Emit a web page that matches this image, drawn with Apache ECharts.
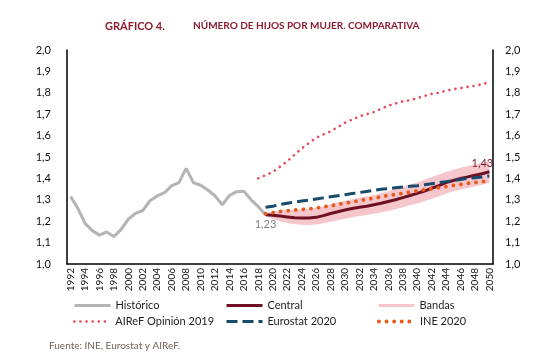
<!DOCTYPE html>
<html><head><meta charset="utf-8">
<script src="https://cdn.jsdelivr.net/npm/echarts@6/dist/echarts.min.js"></script>
<style>html,body{margin:0;padding:0;background:#fff}#c{width:548px;height:357px}</style>
</head><body><div id="c"></div>
<script>
var years = [];
for (var y = 1992; y <= 2050; y++) years.push(String(y));

var historico = [1.315,1.26,1.19,1.156,1.135,1.15,1.128,1.162,1.21,1.237,1.25,1.296,1.318,1.333,1.366,1.38,1.447,1.38,1.368,1.346,1.319,1.276,1.32,1.338,1.34,1.30,1.268,1.23];
// projections 2019..2050
var central = [1.23,1.228,1.224,1.22,1.216,1.215,1.215,1.218,1.226,1.236,1.244,1.252,1.259,1.265,1.27,1.277,1.284,1.292,1.30,1.31,1.32,1.33,1.341,1.354,1.366,1.38,1.39,1.40,1.407,1.415,1.422,1.431];
var bandLow = [1.225,1.21,1.2,1.192,1.186,1.183,1.182,1.184,1.19,1.198,1.205,1.212,1.218,1.224,1.229,1.235,1.241,1.248,1.256,1.265,1.274,1.283,1.293,1.305,1.316,1.33,1.34,1.348,1.355,1.362,1.37,1.378];
var bandHigh = [1.235,1.245,1.25,1.252,1.254,1.256,1.258,1.262,1.27,1.28,1.288,1.296,1.303,1.31,1.316,1.323,1.331,1.34,1.35,1.36,1.37,1.382,1.394,1.406,1.418,1.43,1.44,1.45,1.458,1.465,1.472,1.48];
var eurostat = [1.265,1.27,1.278,1.284,1.289,1.294,1.299,1.304,1.309,1.314,1.319,1.324,1.329,1.334,1.339,1.344,1.349,1.352,1.356,1.36,1.363,1.366,1.37,1.375,1.38,1.385,1.39,1.395,1.40,1.403,1.407,1.411];
var ine = [1.235,1.24,1.245,1.249,1.252,1.255,1.258,1.262,1.267,1.272,1.278,1.284,1.29,1.296,1.302,1.308,1.314,1.32,1.325,1.33,1.336,1.342,1.347,1.352,1.357,1.362,1.367,1.372,1.377,1.381,1.385,1.389];
// AIReF 2018..2050
var airef = [1.40,1.415,1.43,1.455,1.48,1.51,1.54,1.565,1.59,1.605,1.62,1.64,1.66,1.675,1.69,1.70,1.71,1.725,1.74,1.75,1.76,1.765,1.775,1.785,1.795,1.80,1.81,1.817,1.822,1.828,1.833,1.84,1.85];

function pad(arr, startYear) {
  var out = [];
  for (var i = 0; i < years.length; i++) {
    var idx = (1992 + i) - startYear;
    out.push(idx >= 0 && idx < arr.length ? arr[idx] : '-');
  }
  return out;
}
var lowData = pad(bandLow, 2019);
var diffData = pad(bandHigh.map(function(v, i){return +(v - bandLow[i]).toFixed(4);}), 2019);

var GREY = '#b4b4b4', MAROON = '#6e1024', PINK = '#f6c6cd', AIREF = '#e8475c', NAVY = '#174a6b', ORANGE = '#e85a17';
var F = 'Lato';
function yfmt(v){return v.toFixed(1).replace('.', ',');}
function fmt2(v){return v.toFixed(2).replace('.', ',');}

var LS_AIREF = {color: AIREF, width: 2.6, type: [0.1, 6], cap: 'round'};
var LS_EURO = {color: NAVY, width: 3, type: [11, 5]};
var LS_INE = {color: ORANGE, width: 3.8, type: [0.1, 7.5], cap: 'round'};

function leg(name, left, top, ls) {
  return {show: true, left: left, top: top, padding: 0, itemWidth: 36, itemHeight: 12, selectedMode: false,
    textStyle: {fontFamily: F, fontSize: 11, color: '#222'},
    data: [{name: name, lineStyle: ls, itemStyle: {color: ls.color, opacity: 0}}]};
}

var chart = echarts.init(document.getElementById('c'), null, {renderer: 'canvas'});
chart.setOption({
  animation: false,
  backgroundColor: '#fff',
  title: [
    {text: 'GRÁFICO 4.', left: 100, top: 16, textStyle: {fontFamily: F, fontWeight: 'bold', fontSize: 11, color: '#8e1b30'}},
    {text: 'NÚMERO DE HIJOS POR MUJER. COMPARATIVA', left: 188, top: 16, textStyle: {fontFamily: F, fontWeight: 'bold', fontSize: 10, color: '#8e1b30'}},
    {text: 'Fuente: INE, Eurostat y AIReF.', left: 44, top: 336, textStyle: {fontFamily: F, fontWeight: 'normal', fontSize: 10, color: '#6f6158'}}
  ],
  legend: [
    leg('Histórico', 73, 300, {color: GREY, width: 3, type: 'solid'}),
    leg('Central', 225, 300, {color: MAROON, width: 3, type: 'solid'}),
    leg('Bandas', 377, 300, {color: PINK, width: 3, type: 'solid'}),
    leg('AIReF Opinión 2019', 73, 316, LS_AIREF),
    leg('Eurostat 2020', 225, 316, LS_EURO),
    leg('INE 2020', 377, 316, LS_INE)
  ],
  grid: {left: 67, right: 55, top: 50, bottom: 93, containLabel: false},
  xAxis: {type: 'category', data: years, boundaryGap: true,
    axisLine: {lineStyle: {color: '#000', width: 1.5}}, axisTick: {show: false},
    axisLabel: {interval: 1, rotate: 90, margin: 4, fontFamily: F, fontSize: 10, color: '#111'}},
  yAxis: [
    {type: 'value', min: 1, max: 2, interval: 0.1, position: 'left', splitLine: {show: false},
      axisLine: {show: true, lineStyle: {color: '#000', width: 1.5}}, axisTick: {show: false},
      axisLabel: {formatter: yfmt, fontFamily: F, fontSize: 11, color: '#111', margin: 16}},
    {type: 'value', min: 1, max: 2, interval: 0.1, position: 'right', splitLine: {show: false},
      axisLine: {show: true, lineStyle: {color: '#000', width: 1.5}}, axisTick: {show: false},
      axisLabel: {formatter: yfmt, fontFamily: F, fontSize: 11, color: '#111', margin: 12}}
  ],
  series: [
    {name: 'bandLow', type: 'line', stack: 'band', data: lowData, symbol: 'none', lineStyle: {width: 0}, silent: true, z: 1},
    {name: 'Bandas', type: 'line', stack: 'band', data: diffData, symbol: 'none', lineStyle: {width: 0, color: PINK}, itemStyle: {color: PINK}, areaStyle: {color: PINK, opacity: 1}, z: 1},
    {name: 'Histórico', type: 'line', data: pad(historico, 1992), symbol: 'none', lineStyle: {color: GREY, width: 3}, itemStyle: {color: GREY}, z: 3,
      markPoint: {symbol: 'circle', symbolSize: 0, silent: true,
        label: {show: true, position: 'bottom', distance: 4, color: '#808080', fontSize: 11, fontFamily: F, formatter: function(p){return fmt2(p.data.coord[1]);}},
        data: [{coord: ['2019', historico[historico.length - 1]]}]}},
    {name: 'AIReF Opinión 2019', type: 'line', data: pad(airef, 2018), symbol: 'none', lineStyle: LS_AIREF, itemStyle: {color: AIREF}, z: 3},
    {name: 'Central', type: 'line', data: pad(central, 2019), symbol: 'none', lineStyle: {color: MAROON, width: 3}, itemStyle: {color: MAROON}, z: 4,
      markPoint: {symbol: 'circle', symbolSize: 0, silent: true,
        label: {show: true, position: 'top', distance: 3, offset: [-7, 0], color: '#7a1428', fontSize: 11, fontFamily: F, formatter: function(p){return fmt2(p.data.coord[1]);}},
        data: [{coord: ['2050', central[central.length - 1]]}]}},
    {name: 'Eurostat 2020', type: 'line', data: pad(eurostat, 2019), symbol: 'none', lineStyle: LS_EURO, itemStyle: {color: NAVY}, z: 5},
    {name: 'INE 2020', type: 'line', data: pad(ine, 2019), symbol: 'none', lineStyle: LS_INE, itemStyle: {color: ORANGE}, z: 6}
  ]
});
</script></body></html>
